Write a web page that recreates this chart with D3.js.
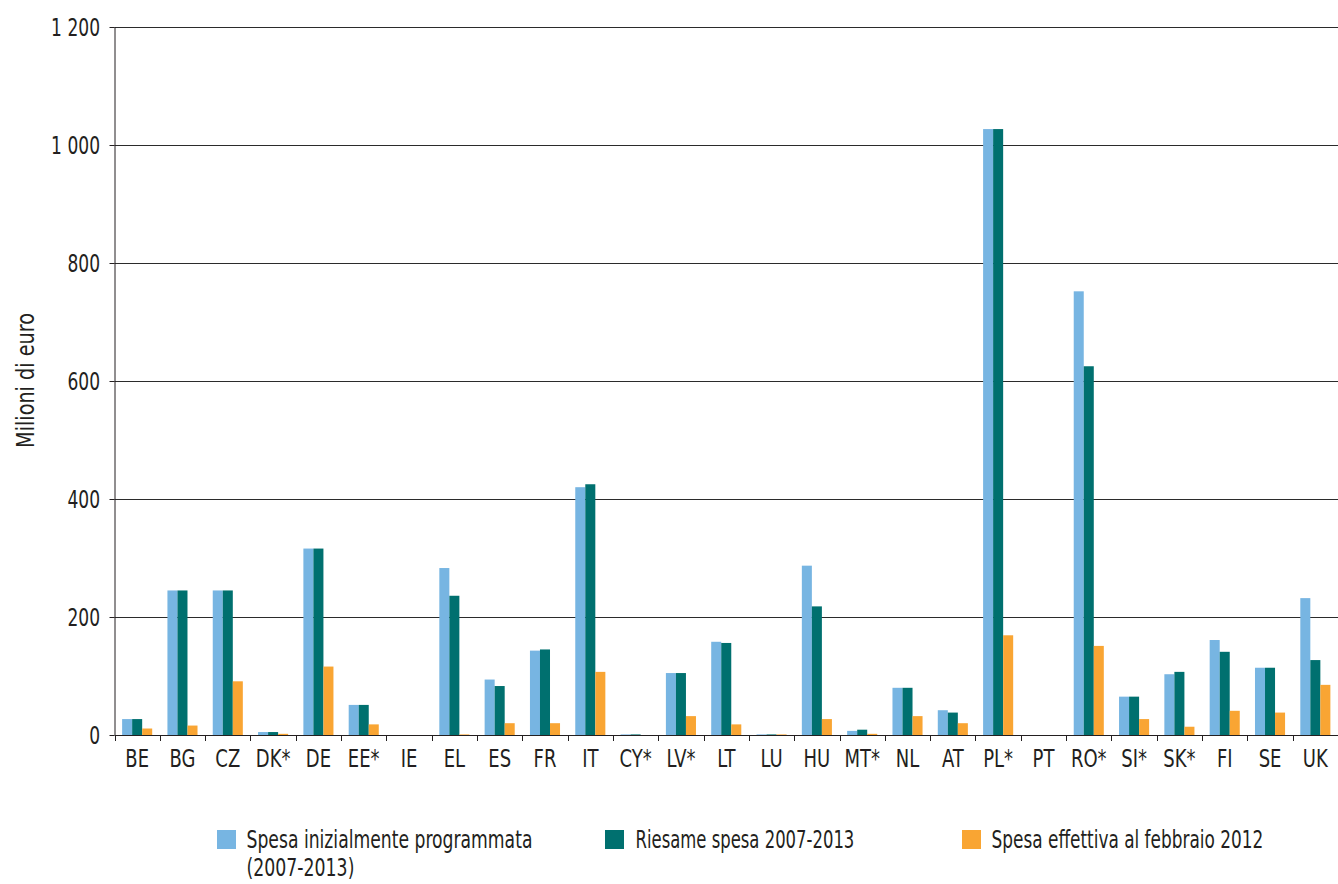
<!DOCTYPE html>
<html>
<head>
<meta charset="utf-8">
<script src="https://cdn.jsdelivr.net/npm/d3@7"></script>
<style>
  html, body { margin: 0; padding: 0; background: #fff; }
  svg text { font-family: "DejaVu Sans Condensed", "Liberation Sans Narrow", "Roboto", sans-serif; fill: #231f20; }
</style>
</head>
<body>
<svg id="chart" width="1338" height="884"></svg>
<script>
const categories = ["BE","BG","CZ","DK*","DE","EE*","IE","EL","ES","FR","IT","CY*","LV*","LT","LU","HU","MT*","NL","AT","PL*","PT","RO*","SI*","SK*","FI","SE","UK"];
const seriesNames = ["Spesa inizialmente programmata (2007-2013)", "Riesame spesa 2007-2013", "Spesa effettiva al febbraio 2012"];
const initialPlanned = [27,245,245,5,316,51,0,283,94,143,420,1,105,158,1,287,7,80,42,1027,0,752,65,103,161,114,232];
const reviewed      = [27,245,245,5,316,51,0,236,83,145,425,1,105,156,1,218,9,80,38,1027,0,625,65,107,141,114,127];
const actualFeb2012 = [11,16,91,2,116,18,0,1,20,20,107,0,32,18,1,27,2,32,20,169,0,151,27,14,41,38,85];
const yTicks = [0,200,400,600,800,1000,1200];
const yTickLabels = ["0","200","400","600","800","1 000","1 200"];
const colors = ["#77b5e2","#00706f","#f9a533"];

const svg = d3.select("#chart");
const pLeft = 114.5, pRight = 1338, pTop = 27, pBottom = 735;
const FS = 25;

const x0 = d3.scaleBand().domain(categories).range([pLeft, pRight]).paddingInner(0).paddingOuter(0);
const x1 = d3.scaleBand().domain(d3.range(3)).range([0, x0.bandwidth()]).paddingInner(0).paddingOuter(0.76);
const y = d3.scaleLinear().domain([0, 1200]).range([pBottom, pTop]);

// gridlines
svg.append("g").selectAll("line").data(yTicks.filter(d => d > 0)).join("line")
  .attr("x1", pLeft).attr("x2", pRight)
  .attr("y1", d => Math.round(y(d)) + 0.5).attr("y2", d => Math.round(y(d)) + 0.5)
  .attr("stroke", "#2b2b2b").attr("stroke-width", 1);

// bars
const seriesData = [initialPlanned, reviewed, actualFeb2012];
const groups = svg.append("g").selectAll("g").data(categories).join("g")
  .attr("transform", d => `translate(${x0(d)},0)`);
groups.selectAll("rect").data((d, i) => seriesData.map((s, k) => ({k, v: s[i]}))).join("rect")
  .attr("x", d => x1(d.k))
  .attr("width", x1.bandwidth())
  .attr("y", d => y(d.v))
  .attr("height", d => pBottom - y(d.v))
  .attr("fill", d => colors[d.k]);

// y axis
const kY = 0.76;
const yAxis = d3.axisLeft(y).tickValues(yTicks).tickFormat((d, i) => yTickLabels[i]).tickSize(5).tickPadding(0);
const gy = svg.append("g").attr("transform", `translate(${pLeft},0)`).call(yAxis);
gy.select(".domain").attr("stroke", "#231f20").attr("d", `M0.5,${pTop}V${pBottom}`);
gy.selectAll(".tick line").attr("stroke", "#231f20");
gy.selectAll(".tick text")
  .attr("font-size", FS).attr("font-family", null)
  .attr("x", -14.5 / kY).attr("dy", "0.35em")
  .attr("transform", `scale(${kY},1)`);

// x axis
const kX = 0.8;
const gx = svg.append("g").attr("transform", `translate(0,${pBottom})`);
gx.append("line").attr("x1", pLeft).attr("x2", pRight).attr("y1", 0.5).attr("y2", 0.5).attr("stroke", "#231f20");
gx.selectAll("line.t").data(d3.range(categories.length + 1)).join("line").attr("class", "t")
  .attr("x1", i => Math.round(pLeft + i * x0.step()) + 0.5)
  .attr("x2", i => Math.round(pLeft + i * x0.step()) + 0.5)
  .attr("y1", 0).attr("y2", 6).attr("stroke", "#231f20");
gx.selectAll("text").data(categories).join("text")
  .attr("transform", d => `translate(${x0(d) + x0.bandwidth() / 2},32) scale(${kX},1)`)
  .attr("text-anchor", "middle")
  .attr("font-size", FS)
  .text(d => d);

// y title
const yTitle = svg.append("text")
  .attr("text-anchor", "middle")
  .attr("font-size", FS)
  .text("Milioni di euro");
{
  const nat = yTitle.node().getComputedTextLength();
  yTitle.attr("transform", `translate(34,380.5) rotate(-90) scale(${135 / nat},1)`);
}

// legend
const legendItems = [
  {rx: 217, tx: 246.5, lines: [["Spesa inizialmente programmata", 286], ["(2007-2013)", 108]]},
  {rx: 605, tx: 635.5, lines: [["Riesame spesa 2007-2013", 219]]},
  {rx: 962, tx: 991.5, lines: [["Spesa effettiva al febbraio 2012", 272]]}
];
const lg = svg.append("g").selectAll("g").data(legendItems).join("g");
lg.append("rect").attr("x", d => d.rx).attr("y", 830).attr("width", 19).attr("height", 19).attr("fill", (d, i) => colors[i]);
lg.selectAll("text").data(d => d.lines.map((l, j) => ({t: l[0], w: l[1], x: d.tx, j}))).join("text")
  .attr("font-size", FS)
  .text(d => d.t)
  .each(function(d) {
    const nat = this.getComputedTextLength();
    d3.select(this).attr("transform", `translate(${d.x},${848 + d.j * 28}) scale(${d.w / nat},1)`);
  });
</script>
</body>
</html>
